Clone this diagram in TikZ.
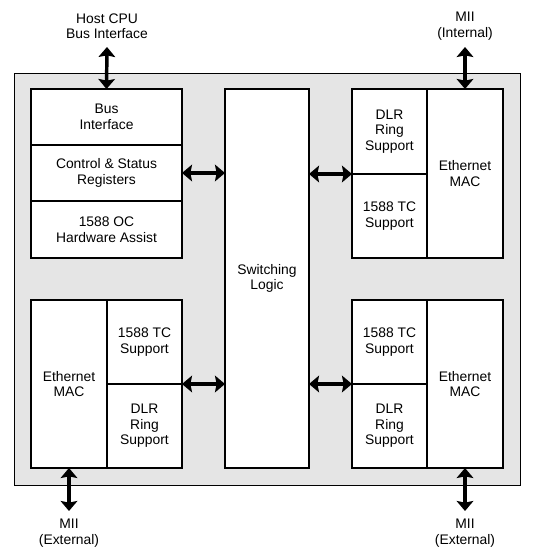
\documentclass[tikz,border=0pt]{standalone}
\usepackage{fontspec}
\setmainfont{Liberation Sans}
\usetikzlibrary{arrows.meta}
\begin{document}
\begin{tikzpicture}[x=0.75pt,y=-0.75pt,
  box/.style={draw=black, line width=1.1pt, fill=white, anchor=north west,
    inner sep=0pt, outer sep=0pt, align=center,
    font=\fontsize{10.4}{11.6}\selectfont},
  lbl/.style={align=center, inner sep=0pt, font=\fontsize{10.4}{11.6}\selectfont},
  dbl/.style={line width=2.6pt, {Stealth[width=12.5pt,length=7.5pt,inset=1.2pt]}-{Stealth[width=12.5pt,length=7.5pt,inset=1.2pt]}}]
\useasboundingbox (0,0) rectangle (541,555);
% outer chip
\node[draw=black, line width=1.1pt, fill=black!10, anchor=north west, inner sep=0pt,
  minimum width=379.5pt, minimum height=309pt] (chip) at (14,73) {};
% top-left stack
\node[box, minimum width=113.25pt, minimum height=42pt] (bus) at (31,89) {Bus\\Interface};
\node[box, minimum width=113.25pt, minimum height=42pt] (csr) at (31,145) {Control \& Status\\Registers};
\node[box, minimum width=113.25pt, minimum height=42.75pt] (oc) at (31,201) {1588 OC\\Hardware Assist};
% switching logic
\node[box, minimum width=63pt, minimum height=284.25pt] (sw) at (225,89) {Switching\\Logic};
% top right
\node[box, minimum width=56.25pt, minimum height=63.75pt] (dlrA) at (352,89) {DLR\\Ring\\Support};
\node[box, minimum width=56.25pt, minimum height=63pt] (tcA) at (352,174) {1588 TC\\Support};
\node[box, minimum width=57pt, minimum height=126.75pt] (macA) at (427,89) {Ethernet\\MAC};
% bottom left
\node[box, minimum width=57pt, minimum height=126pt] (macB) at (31,300) {Ethernet\\MAC};
\node[box, minimum width=56.25pt, minimum height=63pt] (tcB) at (107,300) {1588 TC\\Support};
\node[box, minimum width=56.25pt, minimum height=63pt] (dlrB) at (107,384) {DLR\\Ring\\Support};
% bottom right
\node[box, minimum width=56.25pt, minimum height=63pt] (tcC) at (352,300) {1588 TC\\Support};
\node[box, minimum width=56.25pt, minimum height=63pt] (dlrC) at (352,384) {DLR\\Ring\\Support};
\node[box, minimum width=57pt, minimum height=126pt] (macC) at (427,300) {Ethernet\\MAC};
% external labels
\node[lbl] (host) at (107,26) {Host CPU\\Bus Interface};
\node[lbl] (miiI) at (465,26) {MII\\(Internal)};
\node[lbl] (miiEB) at (69,533) {MII\\(External)};
\node[lbl] (miiEC) at (465,533) {MII\\(External)};
\coordinate (hostT) at (107,47);
\coordinate (miiIT) at (465,47);
\coordinate (miiEBT) at (69,511);
\coordinate (miiECT) at (465,511);
% connectors
\draw[dbl] (hostT) -- (bus.north);
\draw[dbl] (miiIT) -- (macA.north);
\draw[dbl] (macB.south) -- (miiEBT);
\draw[dbl] (macC.south) -- (miiECT);
\draw[dbl] (csr.east) -- (sw.west |- csr.east);
\draw[dbl] (sw.east |- tcA.north west) -- (tcA.north west);
\draw[dbl] (tcB.south east) -- (sw.west |- tcB.south east);
\draw[dbl] (sw.east |- dlrC.north west) -- (dlrC.north west);
\end{tikzpicture}
\end{document}
